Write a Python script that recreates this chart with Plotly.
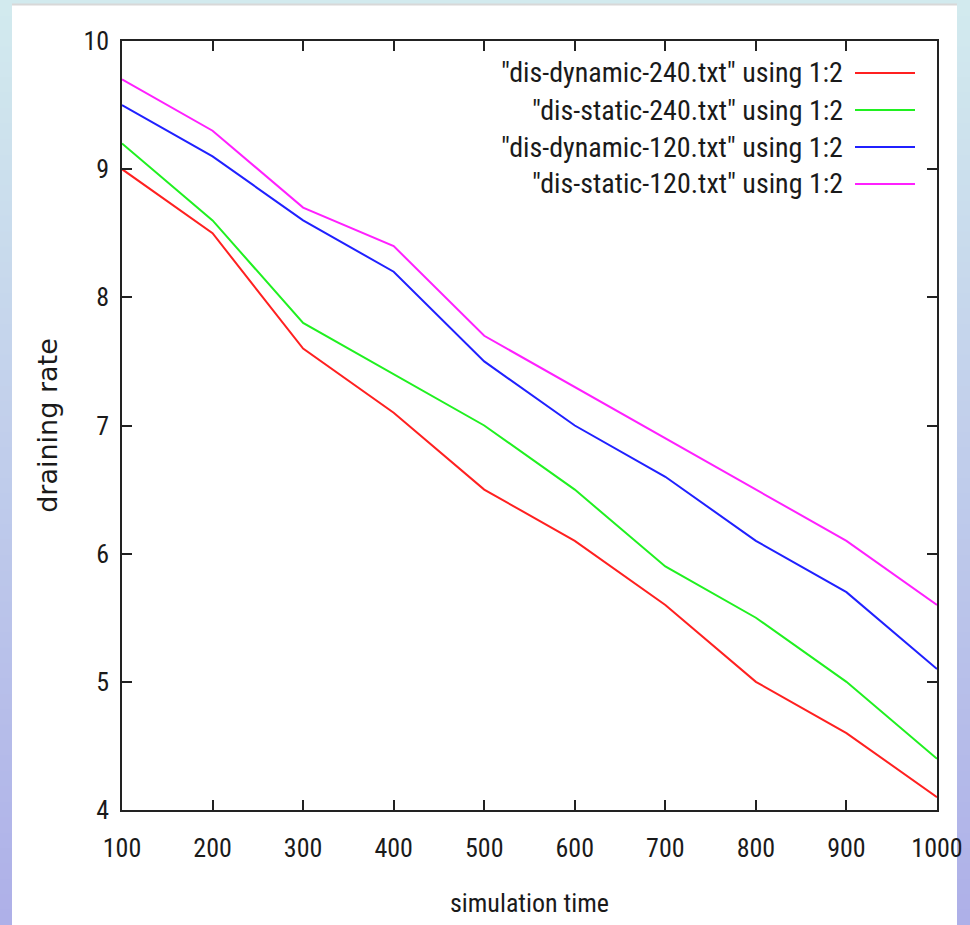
import plotly.graph_objects as go

time = [100, 200, 300, 400, 500, 600, 700, 800, 900, 1000]
dyn240 = [9.0, 8.5, 7.6, 7.1, 6.5, 6.1, 5.6, 5.0, 4.6, 4.1]
sta240 = [9.2, 8.6, 7.8, 7.4, 7.0, 6.5, 5.9, 5.5, 5.0, 4.4]
dyn120 = [9.5, 9.1, 8.6, 8.2, 7.5, 7.0, 6.6, 6.1, 5.7, 5.1]
sta120 = [9.7, 9.3, 8.7, 8.4, 7.7, 7.3, 6.9, 6.5, 6.1, 5.6]
names = ['"dis-dynamic-240.txt" using 1:2', '"dis-static-240.txt" using 1:2',
         '"dis-dynamic-120.txt" using 1:2', '"dis-static-120.txt" using 1:2']
series = [dyn240, sta240, dyn120, sta120]
colors = ["#ff2020", "#20f020", "#2020ff", "#ff20ff"]
yticks = [4, 5, 6, 7, 8, 9, 10]

W, H = 970, 925
L, R, T, B = 122, 937, 41, 810
NARROW = "Roboto Condensed, DejaVu Sans Condensed, sans-serif"

def px(x):
    return (x - L) / (R - L)

def py(y):
    return (B - y) / (B - T)

fig = go.Figure()
for n, s, c in zip(names, series, colors):
    fig.add_trace(go.Scatter(x=time, y=s, mode="lines", name=n,
                             line=dict(color=c, width=2), showlegend=False))

shapes = []
nb = 60
def lerp(a, b, t):
    return int(round(a + (b - a) * t))
c0 = (0xd2, 0xea, 0xee)
c1 = (0xae, 0xb0, 0xe8)
for i in range(nb):
    t = i / (nb - 1)
    col = "rgb(%d,%d,%d)" % tuple(lerp(c0[k], c1[k], t) for k in range(3))
    y0 = H * i / nb
    y1 = H * (i + 1) / nb + 1
    shapes.append(dict(type="rect", xref="paper", yref="paper", layer="below",
                       x0=px(0), x1=px(W), y0=py(y1), y1=py(y0),
                       fillcolor=col, line=dict(width=0)))
shapes.append(dict(type="rect", xref="paper", yref="paper", layer="below",
                   x0=px(12), x1=px(957), y0=py(H + 5), y1=py(5),
                   fillcolor="white", line=dict(width=0)))
shapes.append(dict(type="line", xref="paper", yref="paper", layer="below",
                   x0=px(12), x1=px(957), y0=py(4.5), y1=py(4.5),
                   line=dict(color="#d8d8d8", width=2)))

annotations = []
row_y = [73, 110, 147, 184]
for n, c, ry in zip(names, colors, row_y):
    annotations.append(dict(xref="paper", yref="paper", x=px(845), y=py(ry),
                            text=n, showarrow=False, xanchor="right", yanchor="middle",
                            font=dict(family=NARROW, size=28, color="#1a1a1a")))
    shapes.append(dict(type="line", xref="paper", yref="paper",
                       x0=px(855), x1=px(915), y0=py(ry), y1=py(ry),
                       line=dict(color=c, width=2)))

fig.update_layout(
    width=W, height=H,
    margin=dict(l=L, r=W - R, t=T, b=H - B),
    paper_bgcolor="#c0d0ea", plot_bgcolor="rgba(0,0,0,0)",
    shapes=shapes, annotations=annotations,
    xaxis=dict(range=[100, 1000], tickvals=time, showgrid=False, zeroline=False,
               automargin=False,
               showline=True, linecolor="#222", linewidth=1.5, mirror="allticks",
               ticks="inside", ticklen=10, tickwidth=1.5, tickcolor="#222",
               ticklabelstandoff=14,
               tickfont=dict(family=NARROW, size=26, color="#1a1a1a"),
               title=dict(text="simulation time", standoff=32,
                          font=dict(family=NARROW, size=26, color="#1a1a1a"))),
    yaxis=dict(range=[4, 10], tickvals=yticks, showgrid=False, zeroline=False,
               automargin=False,
               showline=True, linecolor="#222", linewidth=1.5, mirror="allticks",
               ticks="inside", ticklen=10, tickwidth=1.5, tickcolor="#222",
               ticklabelstandoff=6,
               tickfont=dict(family=NARROW, size=26, color="#1a1a1a"),
               title=dict(text="draining rate", standoff=18,
                          font=dict(family="DejaVu Sans, sans-serif", size=27, color="#1a1a1a"))),
)
fig.write_html("out.html")
